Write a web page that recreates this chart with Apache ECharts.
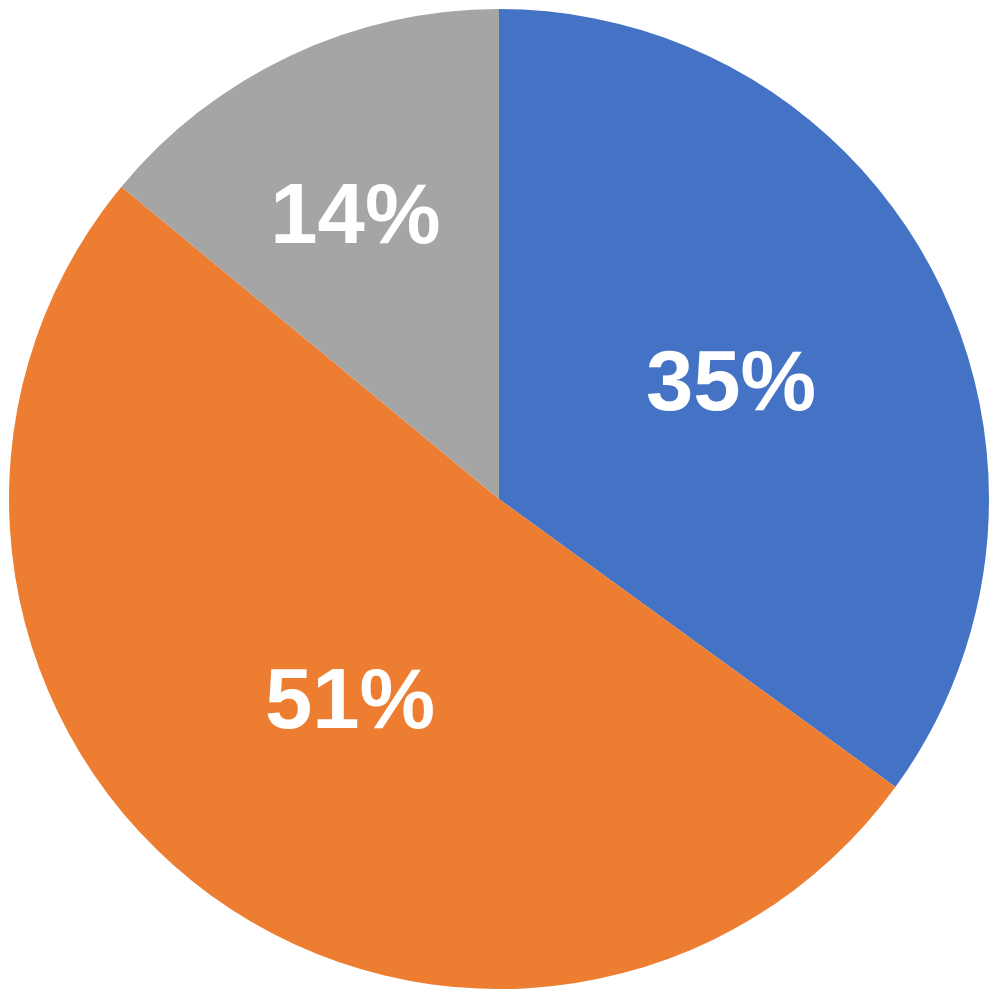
<!DOCTYPE html>
<html>
<head>
<meta charset="utf-8">
<script src="https://cdn.jsdelivr.net/npm/echarts@6/dist/echarts.min.js"></script>
<style>
  html, body { margin: 0; padding: 0; background: #fff; }
  #chart { width: 1000px; height: 1000px; }
</style>
</head>
<body>
<div id="chart"></div>
<script>
var categories = ['A', 'B', 'C'];
var values = [35, 51, 14];
var sliceColors = ['#4472C4', '#ED7D31', '#A5A5A5'];
// small nudges so the labels sit where the original put them
var labelShifts = [[11, 0], [3, 10], [-38, -55]];

var chart = echarts.init(document.getElementById('chart'));

var pieData = categories.map(function (name, i) {
  return {
    name: name,
    value: values[i],
    itemStyle: { color: sliceColors[i] }
  };
});

chart.setOption({
  animation: false,
  series: [
    {
      type: 'pie',
      center: [499, 499],
      radius: [0, 490],
      startAngle: 90,
      clockwise: true,
      data: pieData,
      itemStyle: { borderWidth: 0 },
      label: {
        position: 'inside',
        formatter: '{c}%',
        color: '#fff',
        fontFamily: 'Liberation Sans, Arial, sans-serif',
        fontWeight: 'bold',
        fontSize: 85
      },
      labelLayout: function (params) {
        var s = labelShifts[params.dataIndex];
        return { dx: s[0], dy: s[1] };
      },
      labelLine: { show: false },
      emphasis: { disabled: true }
    }
  ]
});
</script>
</body>
</html>
